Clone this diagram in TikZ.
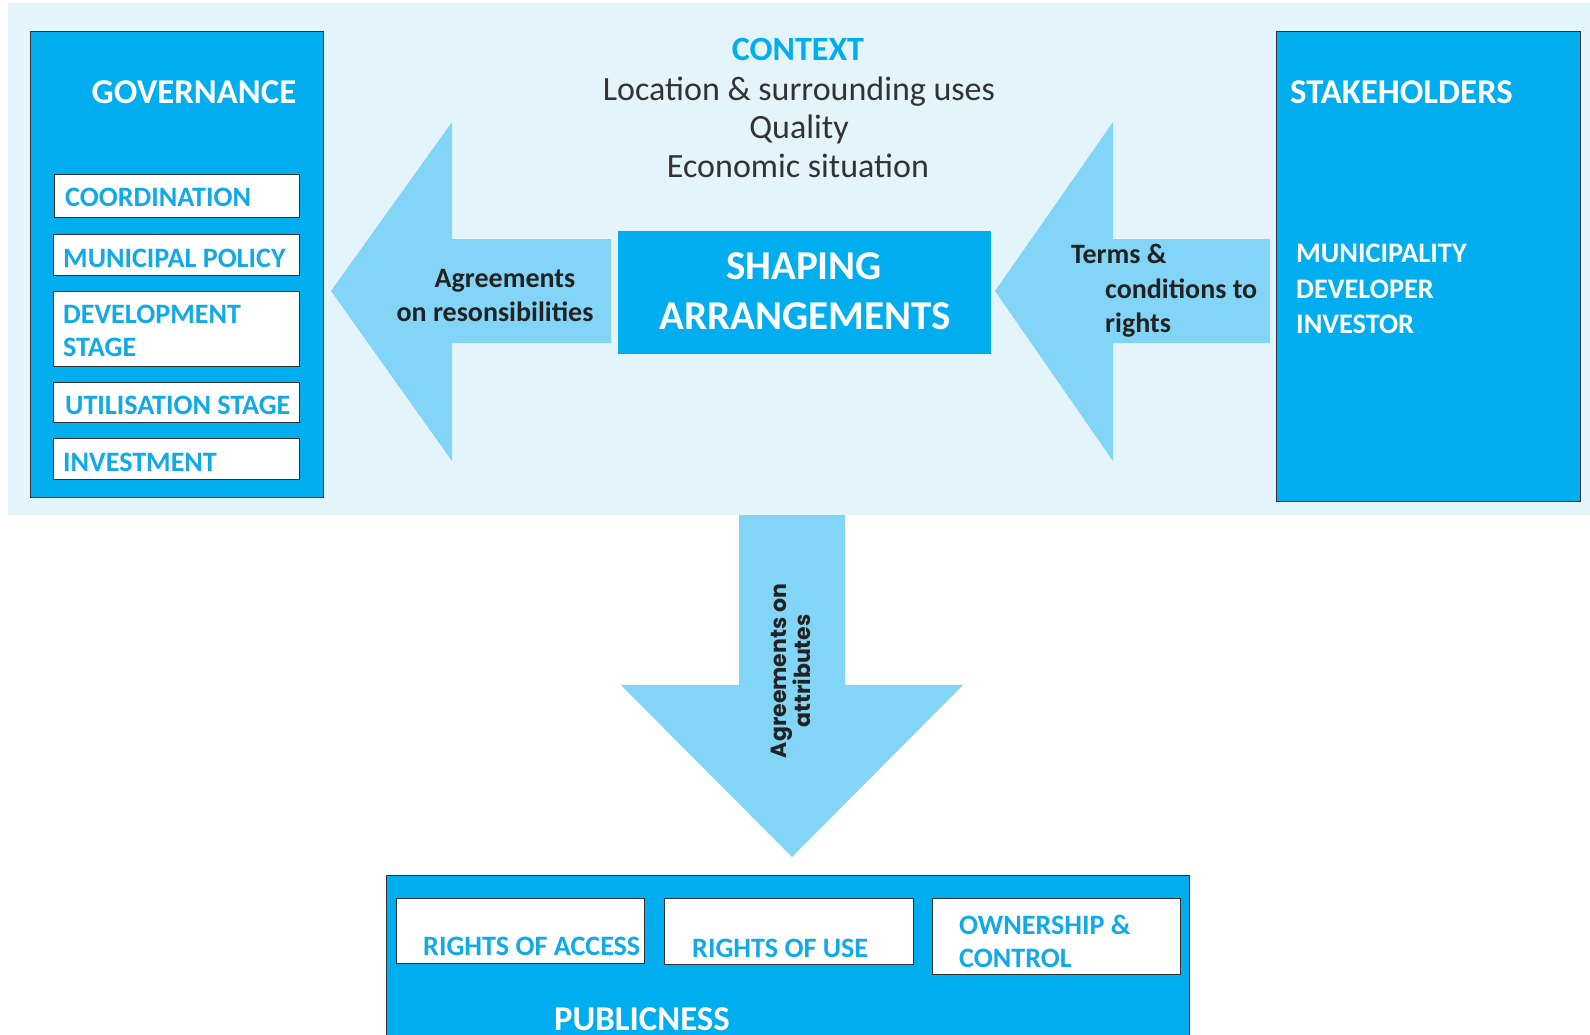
\documentclass[tikz,border=0pt]{standalone}
\usepackage{fontspec}
\setmainfont{Carlito}
\newfontfamily\popfont{Poppins}
\definecolor{bgblue}{HTML}{E3F4FB}
\definecolor{boxcyan}{HTML}{00AEEF}
\definecolor{arrowblue}{HTML}{82D5F6}
\definecolor{edgegray}{HTML}{333333}
\definecolor{itemcyan}{HTML}{12A9E8}
\definecolor{darktext}{HTML}{222222}
\definecolor{ctxtext}{HTML}{333333}
\begin{document}
\begin{tikzpicture}[x=1pt,y=-1pt,
  bigbox/.style={fill=boxcyan, draw=edgegray, line width=1.3pt, inner sep=0, anchor=north west},
  itembox/.style={fill=white, draw=edgegray, line width=1.3pt, inner sep=0, anchor=north west},
  blockarrow/.style={fill=arrowblue, draw=none},
  headtxt/.style={inner sep=0, text=white, font=\fontsize{34.8}{42}\selectfont\bfseries},
  itemtxt/.style={inner sep=0, anchor=base west, text=itemcyan, font=\fontsize{28.1}{34}\selectfont\bfseries},
  whitetxt/.style={inner sep=0, anchor=base west, text=white, font=\fontsize{28.3}{34}\selectfont\bfseries},
  arrowtxt/.style={inner sep=0, text=darktext, font=\fontsize{28}{33}\selectfont\bfseries},
  ctxtxt/.style={inner sep=0, anchor=base, text=ctxtext, font=\fontsize{34}{40}\selectfont},
]
\clip (0,0) rectangle (1590,1035);
\fill[white] (0,0) rectangle (1590,1035);
% context background
\fill[bgblue] (8,3) rectangle (1590,515);

% block arrows
\coordinate (la1) at (611,239);
\draw[blockarrow] (la1) -- (452,239) -- (452,122) -- (331,291) -- (452,461) -- (452,343) -- (611,343) -- cycle;
\coordinate (ra1) at (1270,239);
\draw[blockarrow] (ra1) -- (1113,239) -- (1113,122) -- (995,291) -- (1113,461) -- (1113,343) -- (1270,343) -- cycle;
\coordinate (da1) at (739,515);
\draw[blockarrow] (da1) -- (845,515) -- (845,685) -- (963,685) -- (792,857) -- (621,685) -- (739,685) -- cycle;

% governance
\node[bigbox, minimum width=293pt, minimum height=466pt] (gov) at (30,31) {};
\node[headtxt, anchor=base] (govt) at (194,104) {GOVERNANCE};
\node[itembox, minimum width=245pt, minimum height=43pt] (coord) at (54,174) {};
\node[itemtxt] (coordt) at (65,207) {COORDINATION};
\node[itembox, minimum width=246pt, minimum height=41pt] (munpol) at (53,234) {};
\node[itemtxt] (munpolt) at (63,267) {MUNICIPAL POLICY};
\node[itembox, minimum width=246pt, minimum height=75pt] (dev) at (53,291) {};
\node[itemtxt] (devt1) at (63,323) {DEVELOPMENT};
\node[itemtxt] (devt2) at (63,356) {STAGE};
\node[itembox, minimum width=246pt, minimum height=40pt] (util) at (53,382) {};
\node[itemtxt] (utilt) at (65,414) {UTILISATION STAGE};
\node[itembox, minimum width=246pt, minimum height=41pt] (inv) at (53,438) {};
\node[itemtxt] (invt) at (63,471) {INVESTMENT};

% context
\node[inner sep=0, anchor=base, text=boxcyan, font=\fontsize{34}{40}\selectfont\bfseries] (ctx) at (798,61) {CONTEXT};
\node[ctxtxt] (ctx1) at (799,101) {Location \& surrounding uses};
\node[ctxtxt] (ctx2) at (799,139) {Quality};
\node[ctxtxt] (ctx3) at (798,178) {Economic situation};

% shaping arrangements
\node[fill=boxcyan, draw=none, inner sep=0, anchor=north west, minimum width=373pt, minimum height=123pt] (shape) at (618,231) {};
\node[inner sep=0, anchor=base, text=white, font=\fontsize{41}{48}\selectfont\bfseries] (shape1) at (804,279) {SHAPING};
\node[inner sep=0, anchor=base, text=white, font=\fontsize{41}{48}\selectfont\bfseries] (shape2) at (805,329) {ARRANGEMENTS};

% arrow labels
\node[arrowtxt, anchor=base] (ag1) at (505,287) {Agreements};
\node[arrowtxt, anchor=base] (ag2) at (495,321) {on resonsibilities};
\node[arrowtxt, anchor=base west] (tc1) at (1071,263) {Terms \&};
\node[arrowtxt, anchor=base west] (tc2) at (1105,298) {conditions to};
\node[arrowtxt, anchor=base west] (tc3) at (1105,332) {rights};

% stakeholders
\node[bigbox, minimum width=304pt, minimum height=470pt] (stake) at (1276,31) {};
\node[headtxt, anchor=base west] (staket) at (1290,104) {STAKEHOLDERS};
\node[whitetxt] (st1) at (1296,262) {MUNICIPALITY};
\node[whitetxt] (st2) at (1296,298) {DEVELOPER};
\node[whitetxt] (st3) at (1296,333) {INVESTOR};

% rotated label on down arrow
\node[inner sep=0, rotate=90, align=center, text=darktext, font=\popfont\fontsize{22}{24}\selectfont\bfseries] (attr) at (791,671) {Agreements on\\attributes};

% publicness
\node[bigbox, minimum width=803pt, minimum height=180pt] (pub) at (386,875) {};
\node[itembox, minimum width=248pt, minimum height=65pt] (roa) at (396,898) {};
\node[itemtxt] (roat) at (423,955) {RIGHTS OF ACCESS};
\node[itembox, minimum width=249pt, minimum height=66pt] (rou) at (664,898) {};
\node[itemtxt] (rout) at (692,957) {RIGHTS OF USE};
\node[itembox, minimum width=248pt, minimum height=76pt] (own) at (932,898) {};
\node[itemtxt] (ownt1) at (959,934) {OWNERSHIP \&};
\node[itemtxt] (ownt2) at (959,967) {CONTROL};
\node[headtxt, anchor=base] (pubt) at (642,1030) {PUBLICNESS};
\end{tikzpicture}
\end{document}
